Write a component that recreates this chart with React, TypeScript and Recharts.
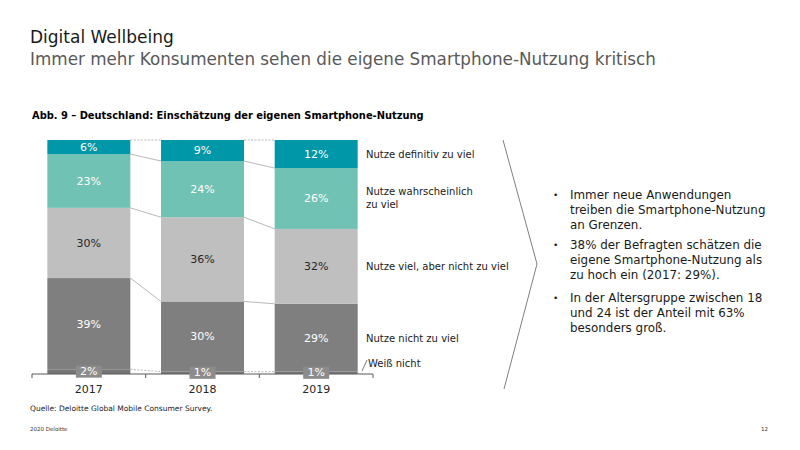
import React from "react";
import { BarChart, Bar, XAxis, YAxis, LabelList } from "recharts";

const years = ["2017", "2018", "2019"];
const weissNicht = [2, 1, 1];
const nichtZuViel = [39, 30, 29];
const vielNichtZuViel = [30, 36, 32];
const wahrscheinlich = [23, 24, 26];
const definitiv = [6, 9, 12];

const seriesNames = [
  "Weiß nicht",
  "Nutze nicht zu viel",
  "Nutze viel, aber nicht zu viel",
  "Nutze wahrscheinlich zu viel",
  "Nutze definitiv zu viel",
];
const seriesValues = [weissNicht, nichtZuViel, vielNichtZuViel, wahrscheinlich, definitiv];
const seriesKeys = ["weiss", "nicht", "viel", "wahr", "def"];
const colors = ["#767676", "#7f7f7f", "#bfbfbf", "#70c2b4", "#0097a9"];
const labelColors = ["#ffffff", "#ffffff", "#262626", "#ffffff", "#ffffff"];

const data = years.map((year, i) => {
  const row: Record<string, any> = { year };
  seriesKeys.forEach((k, s) => (row[k] = seriesValues[s][i]));
  return row;
});

// cumulative top of each series per year
const cumTop = seriesValues.map((_, s) =>
  years.map((__, i) => seriesValues.slice(0, s + 1).reduce((a, arr) => a + arr[i], 0))
);

const GAP = 0.135;
const TICK_MARGIN = 5;
const TICK_SIZE = 6;
const FONT = "'DejaVu Sans', Verdana, sans-serif";

function makeShape(s: number) {
  return (props: any) => {
    const { x, y, width, height, index, fill } = props;
    const k = height / seriesValues[s][index];
    const band = width / (1 - 2 * GAP);
    const hasNext = index < years.length - 1;
    const yNext = hasNext ? y + (cumTop[s][index] - cumTop[s][index + 1]) * k : 0;
    return (
      <g>
        <rect x={x} y={y} width={width} height={height} fill={fill} />
        {hasNext && (
          <line
            x1={x + width}
            y1={y}
            x2={x + band}
            y2={yNext}
            stroke="#a6a6a6"
            strokeWidth={0.8}
            strokeDasharray={s === seriesKeys.length - 1 || s === 0 ? "2 1.5" : undefined}
          />
        )}
      </g>
    );
  };
}

// year label plus small tick marks at the category edges
const YearTick = (props: any) => {
  const { x, y, payload, index } = props;
  const half = payload?.offset || 56.8;
  const axisY = y - TICK_SIZE - TICK_MARGIN;
  const last = index === years.length - 1;
  return (
    <g>
      <line x1={x - half} y1={axisY} x2={x - half} y2={axisY + 4} stroke="#595959" strokeWidth={1} />
      {last && <line x1={x + half} y1={axisY} x2={x + half} y2={axisY + 4} stroke="#595959" strokeWidth={1} />}
      <text x={x} y={y} dy="0.71em" textAnchor="middle" fill="#262626" fontSize={11} fontFamily={FONT}>
        {payload.value}
      </text>
    </g>
  );
};

const boxLabel = (props: any) => {
  const { x, y, width, height, value } = props;
  const cx = x + width / 2;
  const cy = y + height / 2;
  return (
    <g>
      <rect x={cx - 13} y={cy - 6} width={26} height={12} fill="#8c8c8c" />
      <text x={cx} y={cy + 0.5} fill="#fff" fontSize={11} fontFamily={FONT} textAnchor="middle" dominantBaseline="middle">
        {`${value}%`}
      </text>
    </g>
  );
};

const legendRows = [
  { lines: ["Weiß nicht"], top: 357, left: 368 },
  { lines: ["Nutze nicht zu viel"], top: 332, left: 366 },
  { lines: ["Nutze viel, aber nicht zu viel"], top: 260, left: 366 },
  { lines: ["Nutze wahrscheinlich", "zu viel"], top: 185, left: 366 },
  { lines: ["Nutze definitiv zu viel"], top: 148, left: 366 },
];

const bullets = [
  { lines: ["Immer neue Anwendungen", "treiben die Smartphone-Nutzung", "an Grenzen."], top: 188 },
  { lines: ["38% der Befragten schätzen die", "eigene Smartphone-Nutzung als", "zu hoch ein (2017: 29%)."], top: 238 },
  { lines: ["In der Altersgruppe zwischen 18", "und 24 ist der Anteil mit 63%", "besonders groß."], top: 291 },
];

export default function App() {
  return (
    <div
      style={{
        position: "absolute",
        left: 0,
        top: 0,
        width: 800,
        height: 450,
        background: "#fff",
        fontFamily: FONT,
        overflow: "hidden",
      }}
    >
      <div style={{ position: "absolute", left: 30, top: 27, fontSize: 17, color: "#1a1a1a", whiteSpace: "nowrap" }}>
        Digital Wellbeing
      </div>
      <div style={{ position: "absolute", left: 30, top: 49, fontSize: 16.8, color: "#595959", whiteSpace: "nowrap" }}>
        Immer mehr Konsumenten sehen die eigene Smartphone-Nutzung kritisch
      </div>
      <div
        style={{ position: "absolute", left: 32, top: 110, fontSize: 9.9, fontWeight: "bold", color: "#000", whiteSpace: "nowrap" }}
      >
        Abb. 9 – Deutschland: Einschätzung der eigenen Smartphone-Nutzung
      </div>

      <div style={{ position: "absolute", left: 0, top: 0 }}>
        <BarChart
          width={800}
          height={450}
          data={data}
          margin={{ top: 140, right: 427, left: 32, bottom: 50 }}
          barCategoryGap={`${GAP * 100}%`}
        >
          <XAxis
            dataKey="year"
            height={26}
            axisLine={{ stroke: "#595959", strokeWidth: 1.2 }}
            tickLine={false}
            tickSize={TICK_SIZE}
            tickMargin={TICK_MARGIN}
            tick={<YearTick />}
          />
          <YAxis hide domain={[0, 100]} />
          {seriesKeys.map((k, s) => (
            <Bar
              key={k}
              dataKey={k}
              name={seriesNames[s]}
              stackId="a"
              fill={colors[s]}
              isAnimationActive={false}
              shape={makeShape(s)}
            >
              {s === 0 ? (
                <LabelList dataKey={k} content={boxLabel} />
              ) : (
                <LabelList
                  dataKey={k}
                  position="center"
                  formatter={(v: any) => `${v}%`}
                  fill={labelColors[s]}
                  fontSize={11}
                  fontFamily={FONT}
                />
              )}
            </Bar>
          ))}
        </BarChart>
      </div>

      {legendRows.map((r) => (
        <div
          key={r.lines[0]}
          style={{ position: "absolute", left: r.left, top: r.top, fontSize: 10, lineHeight: "13px", color: "#1a1a1a", whiteSpace: "nowrap" }}
        >
          {r.lines.map((l) => (
            <div key={l}>{l}</div>
          ))}
        </div>
      ))}

      <svg style={{ position: "absolute", left: 0, top: 0 }} width={800} height={450}>
        <line x1={362} y1={371} x2={367} y2={360} stroke="#595959" strokeWidth={0.8} />
        <polyline points="503,140 537,264 504,389" fill="none" stroke="#7f7f7f" strokeWidth={1} />
      </svg>

      {bullets.map((b) => (
        <div key={b.lines[0]} style={{ position: "absolute", left: 553, top: b.top, fontSize: 11.9, lineHeight: "15px", color: "#1a1a1a" }}>
          <span style={{ position: "absolute", left: 0, top: 0, fontSize: 9 }}>•</span>
          <div style={{ marginLeft: 17, whiteSpace: "nowrap" }}>
            {b.lines.map((l) => (
              <div key={l}>{l}</div>
            ))}
          </div>
        </div>
      ))}

      <div style={{ position: "absolute", left: 30, top: 404, fontSize: 7.5, color: "#1a1a1a", whiteSpace: "nowrap" }}>
        Quelle: Deloitte Global Mobile Consumer Survey.
      </div>
      <div style={{ position: "absolute", left: 30, top: 426, fontSize: 5.5, color: "#333", whiteSpace: "nowrap" }}>
        2020 Deloitte
      </div>
      <div style={{ position: "absolute", left: 761, top: 426, fontSize: 5.5, color: "#333" }}>12</div>
    </div>
  );
}
